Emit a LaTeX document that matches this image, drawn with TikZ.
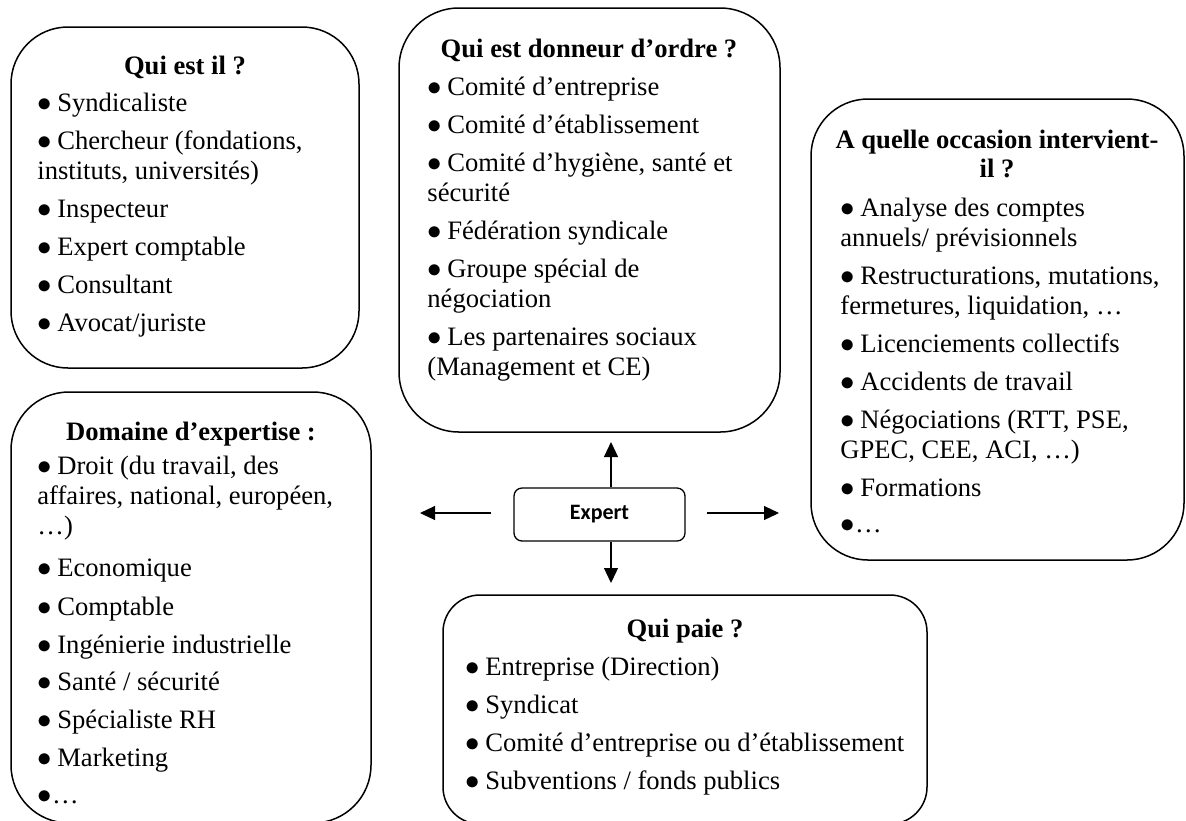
\documentclass[tikz,border=0pt]{standalone}
\usepackage{fontspec}
\setmainfont{Liberation Serif}
\newfontfamily\carlito{Carlito}
\usetikzlibrary{arrows.meta}
\tikzset{
  cadre/.style={draw, line width=0.75pt, rounded corners=#1},
  cadre/.default=28pt,
  texte/.style={anchor=base west, inner sep=0pt, font=\fontsize{13.3}{15}\selectfont},
  titre/.style={anchor=base, inner sep=0pt, font=\fontsize{13.3}{15}\selectfont\bfseries},
  expertBox/.style={draw, line width=0.65pt, rounded corners=4pt, minimum width=85.5pt, minimum height=26.5pt, inner sep=0pt, font=\carlito\bfseries\fontsize{11}{13}\selectfont},
  fleche/.style={line width=0.6pt, -{Triangle[length=7.5pt,width=7pt]}}
}
\newcommand{\puce}{\makebox[0.75em][l]{$\bullet$}}
\newcommand{\pucenue}{\makebox[0.55em][l]{$\bullet$}}
\begin{document}
\begin{tikzpicture}[x=0.5pt,y=-0.5pt]
\useasboundingbox (0,0) rectangle (1186,820);
\clip (0,0) rectangle (1186,820);
\draw[cadre=28.5pt] (11,27) rectangle (359,368);
\draw[cadre=30pt] (399,8) rectangle (780,432);
\draw[cadre=28.5pt] (811,99) rectangle (1184,560);
\draw[cadre=29pt] (11,392) rectangle (371,823);
\draw[cadre=18.5pt] (443,595) rectangle (927,824);
\foreach \x/\y/\t [count=\i] in {185/74/{Qui est il ?}, 589/57/{Qui est donneur d’ordre ?}, 997/148/{A quelle occasion intervient-}, 997/177/{il ?}, 191/440/{Domaine d’expertise :}, 685/637/{Qui paie ?}}
  \node[titre] (titre\i) at (\x,\y) {\t};
\foreach \y/\t [count=\i] in {111/{\puce Syndicaliste}, 149/{\puce Chercheur (fondations,}, 179/{instituts, universités)}, 217/{\puce Inspecteur}, 255/{\puce Expert comptable}, 293/{\puce Consultant}, 331/{\puce Avocat/juriste}}
  \node[texte] (qui\i) at (37,\y) {\t};
\foreach \y/\t [count=\i] in {95/{\puce Comité d’entreprise}, 133/{\puce Comité d’établissement}, 171/{\puce Comité d’hygiène, santé et}, 201/{sécurité}, 239/{\puce Fédération syndicale}, 277/{\puce Groupe spécial de}, 307/{négociation}, 345/{\puce Les partenaires sociaux}, 375/{(Management et CE)}}
  \node[texte] (ordre\i) at (427,\y) {\t};
\foreach \y/\t [count=\i] in {216/{\puce Analyse des comptes}, 246/{annuels/ prévisionnels}, 284/{\puce Restructurations, mutations,}, 314/{fermetures, liquidation, …}, 352/{\puce Licenciements collectifs}, 390/{\puce Accidents de travail}, 428/{\puce Négociations (RTT, PSE,}, 458/{GPEC, CEE, ACI, …)}, 496/{\puce Formations}, 532/{\pucenue…}}
  \node[texte] (occasion\i) at (840,\y) {\t};
\foreach \y/\t [count=\i] in {474/{\puce Droit (du travail, des}, 504/{affaires, national, européen,}, 534/{…)}, 576/{\puce Economique}, 615/{\puce Comptable}, 653/{\puce Ingénierie industrielle}, 690/{\puce Santé / sécurité}, 728/{\puce Spécialiste RH}, 766/{\puce Marketing}, 803/{\pucenue…}}
  \node[texte] (domaine\i) at (37,\y) {\t};
\foreach \y/\t [count=\i] in {675/{\puce Entreprise (Direction)}, 713/{\puce Syndicat}, 751/{\puce Comité d’entreprise ou d’établissement}, 789/{\puce Subventions / fonds publics}}
  \node[texte] (paie\i) at (465,\y) {\t};
\node[expertBox] (expert) at (599.5,514.5) {Expert};
\coordinate (haut) at (611,442);
\coordinate (bas) at (611,583);
\coordinate (gauche) at (420,513);
\coordinate (droite) at (779,513);
\draw[fleche] (expert.north -| haut) -- (haut);
\draw[fleche] (expert.south -| bas) -- (bas);
\draw[fleche, shorten <=11pt] (expert.west |- gauche) -- (gauche);
\draw[fleche, shorten <=10.5pt] (expert.east |- droite) -- (droite);
\end{tikzpicture}
\end{document}
